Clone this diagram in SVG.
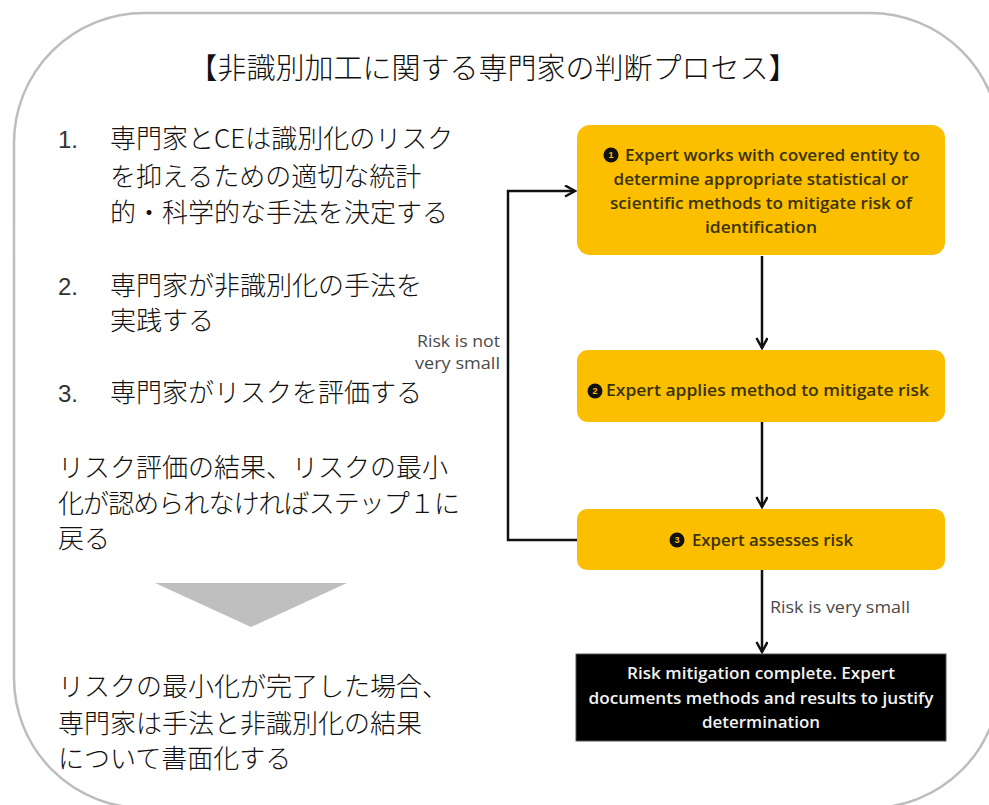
<svg xmlns="http://www.w3.org/2000/svg" width="989" height="805" viewBox="0 0 989 805">
<style>
.jp{font-family:"Noto Sans CJK JP","Noto Sans",sans-serif;fill:#111;font-weight:300;}
.num{font-family:"Liberation Sans","Noto Sans",sans-serif;fill:#333;font-size:24px;}
.en{font-family:"Open Sans","Liberation Sans",sans-serif;font-size:16px;fill:#3a3300;font-weight:600;}
.wt{font-family:"Open Sans","Liberation Sans",sans-serif;font-size:16px;fill:#f2f2f2;font-weight:600;}
.lbl{font-family:"Open Sans","Liberation Sans",sans-serif;font-size:16px;fill:#4a4a4a;}
.box{fill:#FBBF00;}
.conn{fill:none;stroke:#111;stroke-width:2.5;}
.bul{fill:#111;}
.bn{font-family:"Liberation Sans",sans-serif;font-size:9px;fill:#FBBF00;font-weight:bold;}
</style>
<defs>
<marker id="arr" markerUnits="userSpaceOnUse" markerWidth="14" markerHeight="14" refX="11" refY="6" orient="auto">
<path d="M1,0.5 L11,6 L1,11.5" fill="none" stroke="#111" stroke-width="2.5"/>
</marker>
</defs>
<rect width="989" height="805" fill="#fff"/>
<rect id="frame" x="14" y="13" width="986" height="795" rx="130" ry="130" fill="#fff" stroke="#BDBDBD" stroke-width="2.5"/>

<g id="title">
<text class="jp" x="493" y="79" font-size="29" text-anchor="middle">【非識別加工に関する専門家の判断プロセス】</text>
</g>

<g id="steps">
<text class="num" x="58" y="148">1.</text>
<text class="jp" x="110" y="148" font-size="26">専門家とCEは識別化のリスク</text>
<text class="jp" x="110" y="186" font-size="26">を抑えるための適切な統計</text>
<text class="jp" x="110" y="222" font-size="26">的・科学的な手法を決定する</text>
<text class="num" x="58" y="295">2.</text>
<text class="jp" x="110" y="295" font-size="26">専門家が非識別化の手法を</text>
<text class="jp" x="110" y="330" font-size="26">実践する</text>
<text class="num" x="58" y="402">3.</text>
<text class="jp" x="110" y="402" font-size="26">専門家がリスクを評価する</text>
<text class="jp" x="58" y="477" font-size="26">リスク評価の結果、リスクの最小</text>
<text class="jp" x="58" y="513" font-size="26" textLength="402">化が認められなければステップ１に</text>
<text class="jp" x="58" y="548" font-size="26">戻る</text>
<polygon points="155,583 347,583 251,627" fill="#BFBFBF"/>
<text class="jp" x="58" y="696" font-size="26">リスクの最小化が完了した場合、</text>
<text class="jp" x="58" y="733" font-size="26">専門家は手法と非識別化の結果</text>
<text class="jp" x="58" y="768" font-size="26">について書面化する</text>
</g>

<g id="connectors">
<path class="conn" d="M762,256 L762,348" marker-end="url(#arr)"/>
<path class="conn" d="M762,422 L762,507" marker-end="url(#arr)"/>
<path class="conn" d="M762,570 L762,652" marker-end="url(#arr)"/>
<path class="conn" d="M577,540 L508,540 L508,191 L575,191" marker-end="url(#arr)"/>
<text class="lbl" x="500" y="347" text-anchor="end" textLength="83" lengthAdjust="spacingAndGlyphs">Risk is not</text>
<text class="lbl" x="500" y="369" text-anchor="end" textLength="85" lengthAdjust="spacingAndGlyphs">very small</text>
<text class="lbl" x="770" y="613" textLength="140" lengthAdjust="spacingAndGlyphs">Risk is very small</text>
</g>

<g id="node1">
<rect class="box" x="577" y="125" width="368" height="130" rx="13"/>
<circle class="bul" cx="611" cy="155" r="7.5"/>
<text class="bn" x="611" y="158" text-anchor="middle">1</text>
<text class="en" x="625" y="161" textLength="295" lengthAdjust="spacingAndGlyphs">Expert works with covered entity to</text>
<text class="en" x="761" y="185" text-anchor="middle" textLength="295" lengthAdjust="spacingAndGlyphs">determine appropriate statistical or</text>
<text class="en" x="761" y="209" text-anchor="middle" textLength="302" lengthAdjust="spacingAndGlyphs">scientific methods to mitigate risk of</text>
<text class="en" x="761" y="233" text-anchor="middle" textLength="112" lengthAdjust="spacingAndGlyphs">identification</text>
</g>

<g id="node2">
<rect class="box" x="577" y="350" width="368" height="72" rx="11"/>
<circle class="bul" cx="595" cy="391" r="7.5"/>
<text class="bn" x="595" y="394" text-anchor="middle">2</text>
<text class="en" x="606" y="396" textLength="323" lengthAdjust="spacingAndGlyphs">Expert applies method to mitigate risk</text>
</g>

<g id="node3">
<rect class="box" x="577" y="509" width="368" height="61" rx="10"/>
<circle class="bul" cx="677" cy="540" r="7.5"/>
<text class="bn" x="677" y="543" text-anchor="middle">3</text>
<text class="en" x="692" y="546" textLength="161" lengthAdjust="spacingAndGlyphs">Expert assesses risk</text>
</g>

<g id="node4">
<rect x="576" y="654" width="370" height="87" fill="#000" stroke="#555" stroke-width="1"/>
<text class="wt" x="761" y="679" text-anchor="middle" textLength="268" lengthAdjust="spacingAndGlyphs">Risk mitigation complete. Expert</text>
<text class="wt" x="761" y="704" text-anchor="middle" textLength="345" lengthAdjust="spacingAndGlyphs">documents methods and results to justify</text>
<text class="wt" x="761" y="728" text-anchor="middle" textLength="118" lengthAdjust="spacingAndGlyphs">determination</text>
</g>
</svg>
